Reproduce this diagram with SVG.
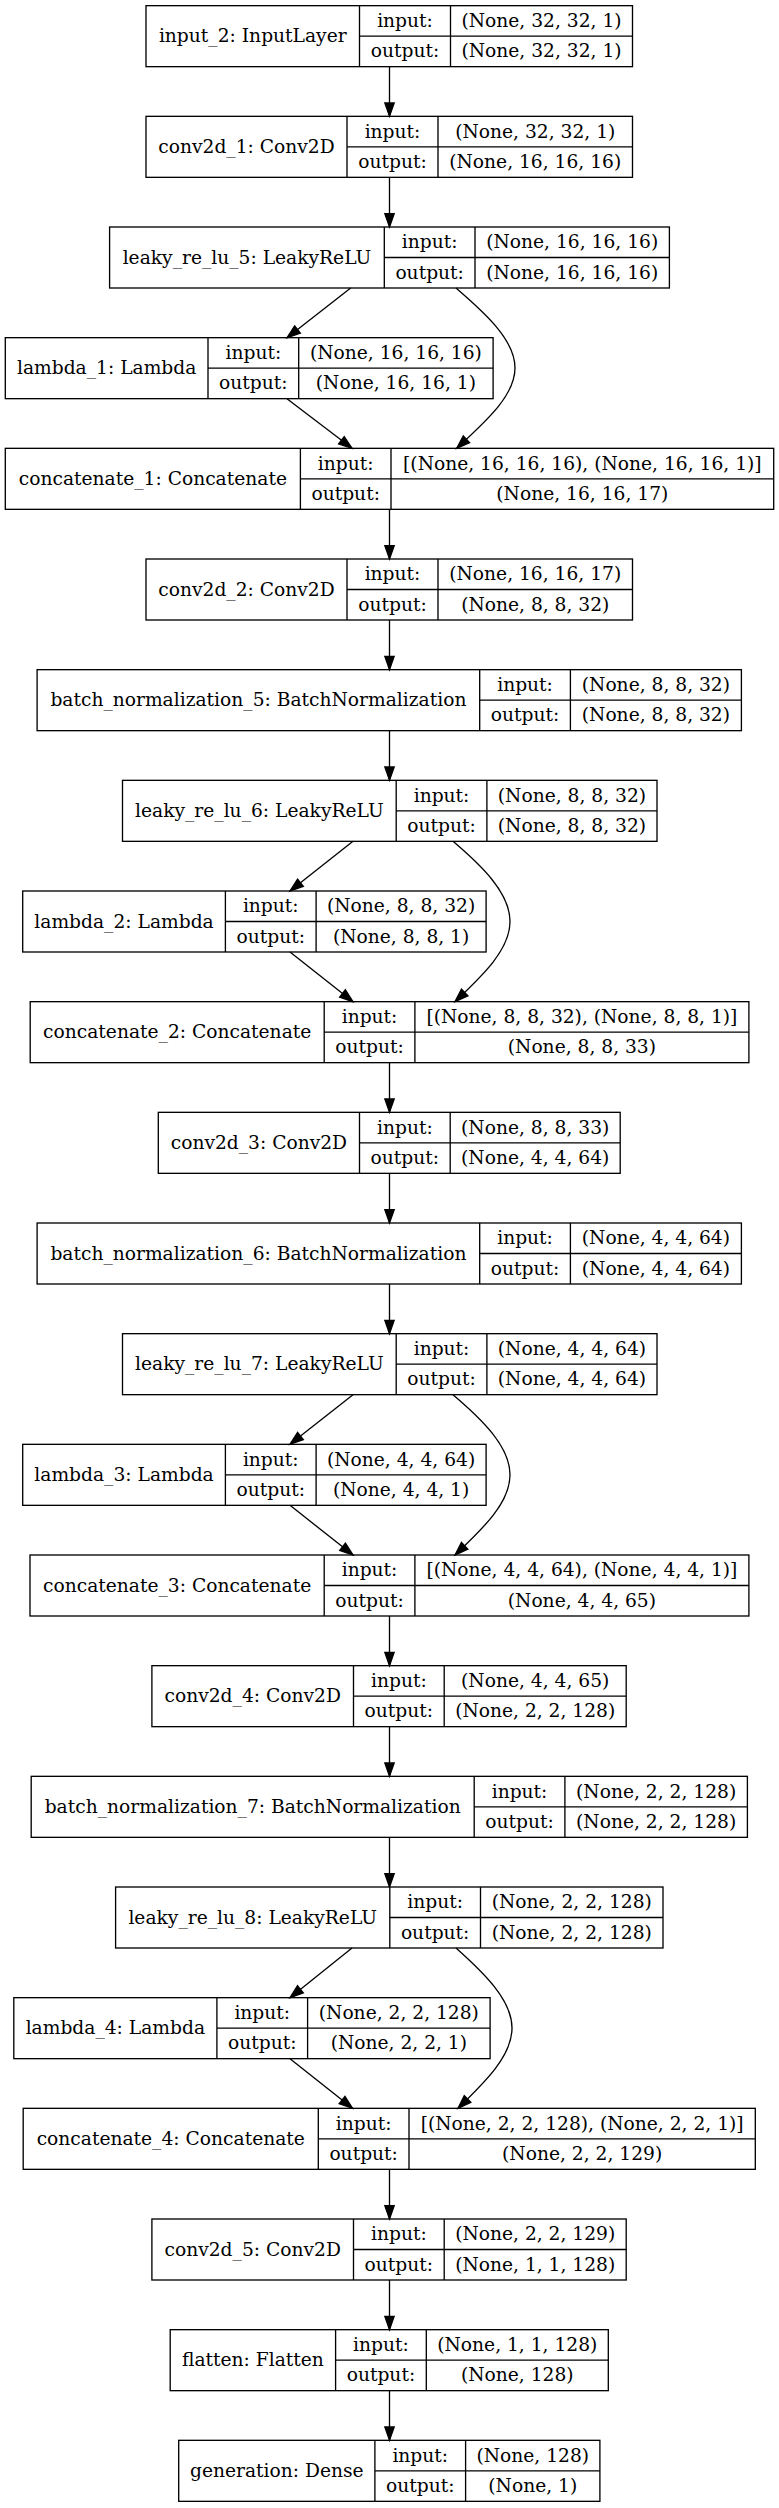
<svg xmlns="http://www.w3.org/2000/svg" width="779" height="2508" viewBox="0 0 779 2508">
<defs>
<style>
.bg{fill:#fff}
.box{fill:#fff;stroke:#000;stroke-width:1.33}
.sep{stroke:#000;stroke-width:1.33;fill:none}
.t{font-family:"DejaVu Serif","Liberation Serif",serif;font-size:18.67px;text-anchor:middle;fill:#000}
.e{stroke:#000;stroke-width:1.33;fill:none;marker-end:url(#ah)}
</style>
<marker id="ah" markerUnits="userSpaceOnUse" markerWidth="16" markerHeight="12" refX="13.33" refY="4.67" orient="auto" overflow="visible">
<path d="M0,0 L13.33,4.67 L0,9.33 z" fill="#000" stroke="#000" stroke-width="1.33"/>
</marker>
</defs>
<rect class="bg" x="0" y="0" width="779" height="2508"/>

<g id="input_2" transform="translate(0,5.67)">
<rect class="box" x="146" y="0" width="486.5" height="61"/>
<path class="sep" d="M359.5,0V61M450.5,0V61M359.5,30.5H632.5"/>
<text class="t" x="252.75" y="36.8">input_2: InputLayer</text>
<text class="t" x="405" y="21.3">input:</text>
<text class="t" x="541.5" y="21.3">(None, 32, 32, 1)</text>
<text class="t" x="405" y="51.8">output:</text>
<text class="t" x="541.5" y="51.8">(None, 32, 32, 1)</text>
</g>

<g id="conv2d_1" transform="translate(0,116.33)">
<rect class="box" x="146" y="0" width="486.5" height="61"/>
<path class="sep" d="M347,0V61M438,0V61M347,30.5H632.5"/>
<text class="t" x="246.5" y="36.8">conv2d_1: Conv2D</text>
<text class="t" x="392.5" y="21.3">input:</text>
<text class="t" x="535.25" y="21.3">(None, 32, 32, 1)</text>
<text class="t" x="392.5" y="51.8">output:</text>
<text class="t" x="535.25" y="51.8">(None, 16, 16, 16)</text>
</g>

<g id="leaky_re_lu_5" transform="translate(0,227)">
<rect class="box" x="109.6" y="0" width="559.8" height="61"/>
<path class="sep" d="M384.3,0V61M475,0V61M384.3,30.5H669.4"/>
<text class="t" x="246.95" y="36.8">leaky_re_lu_5: LeakyReLU</text>
<text class="t" x="429.65" y="21.3">input:</text>
<text class="t" x="572.2" y="21.3">(None, 16, 16, 16)</text>
<text class="t" x="429.65" y="51.8">output:</text>
<text class="t" x="572.2" y="51.8">(None, 16, 16, 16)</text>
</g>

<g id="lambda_1" transform="translate(0,337.67)">
<rect class="box" x="5.3" y="0" width="487.8" height="61"/>
<path class="sep" d="M208,0V61M298.7,0V61M208,30.5H493.1"/>
<text class="t" x="106.65" y="36.8">lambda_1: Lambda</text>
<text class="t" x="253.35" y="21.3">input:</text>
<text class="t" x="395.9" y="21.3">(None, 16, 16, 16)</text>
<text class="t" x="253.35" y="51.8">output:</text>
<text class="t" x="395.9" y="51.8">(None, 16, 16, 1)</text>
</g>

<g id="concatenate_1" transform="translate(0,448.33)">
<rect class="box" x="5.3" y="0" width="768.4" height="61"/>
<path class="sep" d="M300.4,0V61M391,0V61M300.4,30.5H773.7"/>
<text class="t" x="152.85" y="36.8">concatenate_1: Concatenate</text>
<text class="t" x="345.7" y="21.3">input:</text>
<text class="t" x="582.35" y="21.3">[(None, 16, 16, 16), (None, 16, 16, 1)]</text>
<text class="t" x="345.7" y="51.8">output:</text>
<text class="t" x="582.35" y="51.8">(None, 16, 16, 17)</text>
</g>

<g id="conv2d_2" transform="translate(0,559)">
<rect class="box" x="146" y="0" width="486.5" height="61"/>
<path class="sep" d="M347,0V61M438,0V61M347,30.5H632.5"/>
<text class="t" x="246.5" y="36.8">conv2d_2: Conv2D</text>
<text class="t" x="392.5" y="21.3">input:</text>
<text class="t" x="535.25" y="21.3">(None, 16, 16, 17)</text>
<text class="t" x="392.5" y="51.8">output:</text>
<text class="t" x="535.25" y="51.8">(None, 8, 8, 32)</text>
</g>

<g id="batch_normalization_5" transform="translate(0,669.67)">
<rect class="box" x="37.1" y="0" width="704.3" height="61"/>
<path class="sep" d="M479.7,0V61M570.4,0V61M479.7,30.5H741.4"/>
<text class="t" x="258.4" y="36.8">batch_normalization_5: BatchNormalization</text>
<text class="t" x="525.05" y="21.3">input:</text>
<text class="t" x="655.9" y="21.3">(None, 8, 8, 32)</text>
<text class="t" x="525.05" y="51.8">output:</text>
<text class="t" x="655.9" y="51.8">(None, 8, 8, 32)</text>
</g>

<g id="leaky_re_lu_6" transform="translate(0,780.33)">
<rect class="box" x="122.5" y="0" width="534.5" height="61"/>
<path class="sep" d="M396.2,0V61M486.9,0V61M396.2,30.5H657"/>
<text class="t" x="259.35" y="36.8">leaky_re_lu_6: LeakyReLU</text>
<text class="t" x="441.55" y="21.3">input:</text>
<text class="t" x="571.95" y="21.3">(None, 8, 8, 32)</text>
<text class="t" x="441.55" y="51.8">output:</text>
<text class="t" x="571.95" y="51.8">(None, 8, 8, 32)</text>
</g>

<g id="lambda_2" transform="translate(0,891)">
<rect class="box" x="22.7" y="0" width="463.4" height="61"/>
<path class="sep" d="M225.4,0V61M316.1,0V61M225.4,30.5H486.1"/>
<text class="t" x="124.05" y="36.8">lambda_2: Lambda</text>
<text class="t" x="270.75" y="21.3">input:</text>
<text class="t" x="401.1" y="21.3">(None, 8, 8, 32)</text>
<text class="t" x="270.75" y="51.8">output:</text>
<text class="t" x="401.1" y="51.8">(None, 8, 8, 1)</text>
</g>

<g id="concatenate_2" transform="translate(0,1001.67)">
<rect class="box" x="30.2" y="0" width="718.7" height="61"/>
<path class="sep" d="M324.2,0V61M414.9,0V61M324.2,30.5H748.9"/>
<text class="t" x="177.2" y="36.8">concatenate_2: Concatenate</text>
<text class="t" x="369.55" y="21.3">input:</text>
<text class="t" x="581.9" y="21.3">[(None, 8, 8, 32), (None, 8, 8, 1)]</text>
<text class="t" x="369.55" y="51.8">output:</text>
<text class="t" x="581.9" y="51.8">(None, 8, 8, 33)</text>
</g>

<g id="conv2d_3" transform="translate(0,1112.33)">
<rect class="box" x="158.3" y="0" width="461.9" height="61"/>
<path class="sep" d="M359.5,0V61M450.2,0V61M359.5,30.5H620.2"/>
<text class="t" x="258.9" y="36.8">conv2d_3: Conv2D</text>
<text class="t" x="404.85" y="21.3">input:</text>
<text class="t" x="535.2" y="21.3">(None, 8, 8, 33)</text>
<text class="t" x="404.85" y="51.8">output:</text>
<text class="t" x="535.2" y="51.8">(None, 4, 4, 64)</text>
</g>

<g id="batch_normalization_6" transform="translate(0,1223)">
<rect class="box" x="37.1" y="0" width="704.3" height="61"/>
<path class="sep" d="M479.7,0V61M570.4,0V61M479.7,30.5H741.4"/>
<text class="t" x="258.4" y="36.8">batch_normalization_6: BatchNormalization</text>
<text class="t" x="525.05" y="21.3">input:</text>
<text class="t" x="655.9" y="21.3">(None, 4, 4, 64)</text>
<text class="t" x="525.05" y="51.8">output:</text>
<text class="t" x="655.9" y="51.8">(None, 4, 4, 64)</text>
</g>

<g id="leaky_re_lu_7" transform="translate(0,1333.67)">
<rect class="box" x="122.5" y="0" width="534.5" height="61"/>
<path class="sep" d="M396.2,0V61M486.9,0V61M396.2,30.5H657"/>
<text class="t" x="259.35" y="36.8">leaky_re_lu_7: LeakyReLU</text>
<text class="t" x="441.55" y="21.3">input:</text>
<text class="t" x="571.95" y="21.3">(None, 4, 4, 64)</text>
<text class="t" x="441.55" y="51.8">output:</text>
<text class="t" x="571.95" y="51.8">(None, 4, 4, 64)</text>
</g>

<g id="lambda_3" transform="translate(0,1444.33)">
<rect class="box" x="22.7" y="0" width="463.4" height="61"/>
<path class="sep" d="M225.4,0V61M316.1,0V61M225.4,30.5H486.1"/>
<text class="t" x="124.05" y="36.8">lambda_3: Lambda</text>
<text class="t" x="270.75" y="21.3">input:</text>
<text class="t" x="401.1" y="21.3">(None, 4, 4, 64)</text>
<text class="t" x="270.75" y="51.8">output:</text>
<text class="t" x="401.1" y="51.8">(None, 4, 4, 1)</text>
</g>

<g id="concatenate_3" transform="translate(0,1555)">
<rect class="box" x="30" y="0" width="718.9" height="61"/>
<path class="sep" d="M324.2,0V61M414.9,0V61M324.2,30.5H748.9"/>
<text class="t" x="177.1" y="36.8">concatenate_3: Concatenate</text>
<text class="t" x="369.55" y="21.3">input:</text>
<text class="t" x="581.9" y="21.3">[(None, 4, 4, 64), (None, 4, 4, 1)]</text>
<text class="t" x="369.55" y="51.8">output:</text>
<text class="t" x="581.9" y="51.8">(None, 4, 4, 65)</text>
</g>

<g id="conv2d_4" transform="translate(0,1665.67)">
<rect class="box" x="151.9" y="0" width="474.3" height="61"/>
<path class="sep" d="M353.5,0V61M444.2,0V61M353.5,30.5H626.2"/>
<text class="t" x="252.7" y="36.8">conv2d_4: Conv2D</text>
<text class="t" x="398.85" y="21.3">input:</text>
<text class="t" x="535.2" y="21.3">(None, 4, 4, 65)</text>
<text class="t" x="398.85" y="51.8">output:</text>
<text class="t" x="535.2" y="51.8">(None, 2, 2, 128)</text>
</g>

<g id="batch_normalization_7" transform="translate(0,1776.33)">
<rect class="box" x="31.2" y="0" width="716.2" height="61"/>
<path class="sep" d="M474.2,0V61M564.9,0V61M474.2,30.5H747.4"/>
<text class="t" x="252.7" y="36.8">batch_normalization_7: BatchNormalization</text>
<text class="t" x="519.55" y="21.3">input:</text>
<text class="t" x="656.15" y="21.3">(None, 2, 2, 128)</text>
<text class="t" x="519.55" y="51.8">output:</text>
<text class="t" x="656.15" y="51.8">(None, 2, 2, 128)</text>
</g>

<g id="leaky_re_lu_8" transform="translate(0,1887)">
<rect class="box" x="115.6" y="0" width="547.4" height="61"/>
<path class="sep" d="M389.8,0V61M480.5,0V61M389.8,30.5H663"/>
<text class="t" x="252.7" y="36.8">leaky_re_lu_8: LeakyReLU</text>
<text class="t" x="435.15" y="21.3">input:</text>
<text class="t" x="571.75" y="21.3">(None, 2, 2, 128)</text>
<text class="t" x="435.15" y="51.8">output:</text>
<text class="t" x="571.75" y="51.8">(None, 2, 2, 128)</text>
</g>

<g id="lambda_4" transform="translate(0,1997.67)">
<rect class="box" x="13.8" y="0" width="476.3" height="61"/>
<path class="sep" d="M216.9,0V61M307.6,0V61M216.9,30.5H490.1"/>
<text class="t" x="115.35" y="36.8">lambda_4: Lambda</text>
<text class="t" x="262.25" y="21.3">input:</text>
<text class="t" x="398.85" y="21.3">(None, 2, 2, 128)</text>
<text class="t" x="262.25" y="51.8">output:</text>
<text class="t" x="398.85" y="51.8">(None, 2, 2, 1)</text>
</g>

<g id="concatenate_4" transform="translate(0,2108.33)">
<rect class="box" x="23.2" y="0" width="732.1" height="61"/>
<path class="sep" d="M318.3,0V61M409,0V61M318.3,30.5H755.3"/>
<text class="t" x="170.75" y="36.8">concatenate_4: Concatenate</text>
<text class="t" x="363.65" y="21.3">input:</text>
<text class="t" x="582.15" y="21.3">[(None, 2, 2, 128), (None, 2, 2, 1)]</text>
<text class="t" x="363.65" y="51.8">output:</text>
<text class="t" x="582.15" y="51.8">(None, 2, 2, 129)</text>
</g>

<g id="conv2d_5" transform="translate(0,2219)">
<rect class="box" x="151.9" y="0" width="474.3" height="61"/>
<path class="sep" d="M353.5,0V61M444.2,0V61M353.5,30.5H626.2"/>
<text class="t" x="252.7" y="36.8">conv2d_5: Conv2D</text>
<text class="t" x="398.85" y="21.3">input:</text>
<text class="t" x="535.2" y="21.3">(None, 2, 2, 129)</text>
<text class="t" x="398.85" y="51.8">output:</text>
<text class="t" x="535.2" y="51.8">(None, 1, 1, 128)</text>
</g>

<g id="flatten" transform="translate(0,2329.67)">
<rect class="box" x="170.2" y="0" width="438.1" height="61"/>
<path class="sep" d="M335.6,0V61M426.3,0V61M335.6,30.5H608.3"/>
<text class="t" x="252.9" y="36.8">flatten: Flatten</text>
<text class="t" x="380.95" y="21.3">input:</text>
<text class="t" x="517.3" y="21.3">(None, 1, 1, 128)</text>
<text class="t" x="380.95" y="51.8">output:</text>
<text class="t" x="517.3" y="51.8">(None, 128)</text>
</g>

<g id="generation" transform="translate(0,2440.33)">
<rect class="box" x="178.7" y="0" width="421.2" height="61"/>
<path class="sep" d="M374.9,0V61M465.6,0V61M374.9,30.5H599.9"/>
<text class="t" x="276.8" y="36.8">generation: Dense</text>
<text class="t" x="420.25" y="21.3">input:</text>
<text class="t" x="532.75" y="21.3">(None, 128)</text>
<text class="t" x="420.25" y="51.8">output:</text>
<text class="t" x="532.75" y="51.8">(None, 1)</text>
</g>

<g id="connectors">
<path class="e" d="M389.5,66.67V116.33"/>
<path class="e" d="M389.5,177.33V227"/>
<path class="e" d="M350.7,288L287,337.67"/>
<path class="e" d="M287,398.67L352,448.33"/>
<path class="e" d="M456,288C485,313 515,340 515,368C515,396 485,422 456.7,448.33"/>
<path class="e" d="M389.5,509.33V559"/>
<path class="e" d="M389.5,620V669.67"/>
<path class="e" d="M389.5,730.67V780.33"/>
<path class="e" d="M353,841.33L290,891"/>
<path class="e" d="M290,952L353,1001.67"/>
<path class="e" d="M453,841.33C482,866 510,893 510,921.5C510,950 482,976 455,1001.67"/>
<path class="e" d="M389.5,1062.67V1112.33"/>
<path class="e" d="M389.5,1173.33V1223"/>
<path class="e" d="M389.5,1284V1333.67"/>
<path class="e" d="M353,1394.67L290,1444.33"/>
<path class="e" d="M290,1505.33L353,1555"/>
<path class="e" d="M453,1394.67C482,1419.33 510,1446.33 510,1474.83C510,1503.33 482,1529.33 455,1555"/>
<path class="e" d="M389.5,1616V1665.67"/>
<path class="e" d="M389.5,1726.67V1776.33"/>
<path class="e" d="M389.5,1837.33V1887"/>
<path class="e" d="M352,1948L290,1997.67"/>
<path class="e" d="M290,2058.67L352.5,2108.33"/>
<path class="e" d="M456,1948C484,1973 512,2000 512,2028C512,2056 485,2082 458,2108.33"/>
<path class="e" d="M389.5,2169.33V2219"/>
<path class="e" d="M389.5,2280V2329.67"/>
<path class="e" d="M389.5,2390.67V2440.33"/>
</g>
</svg>
